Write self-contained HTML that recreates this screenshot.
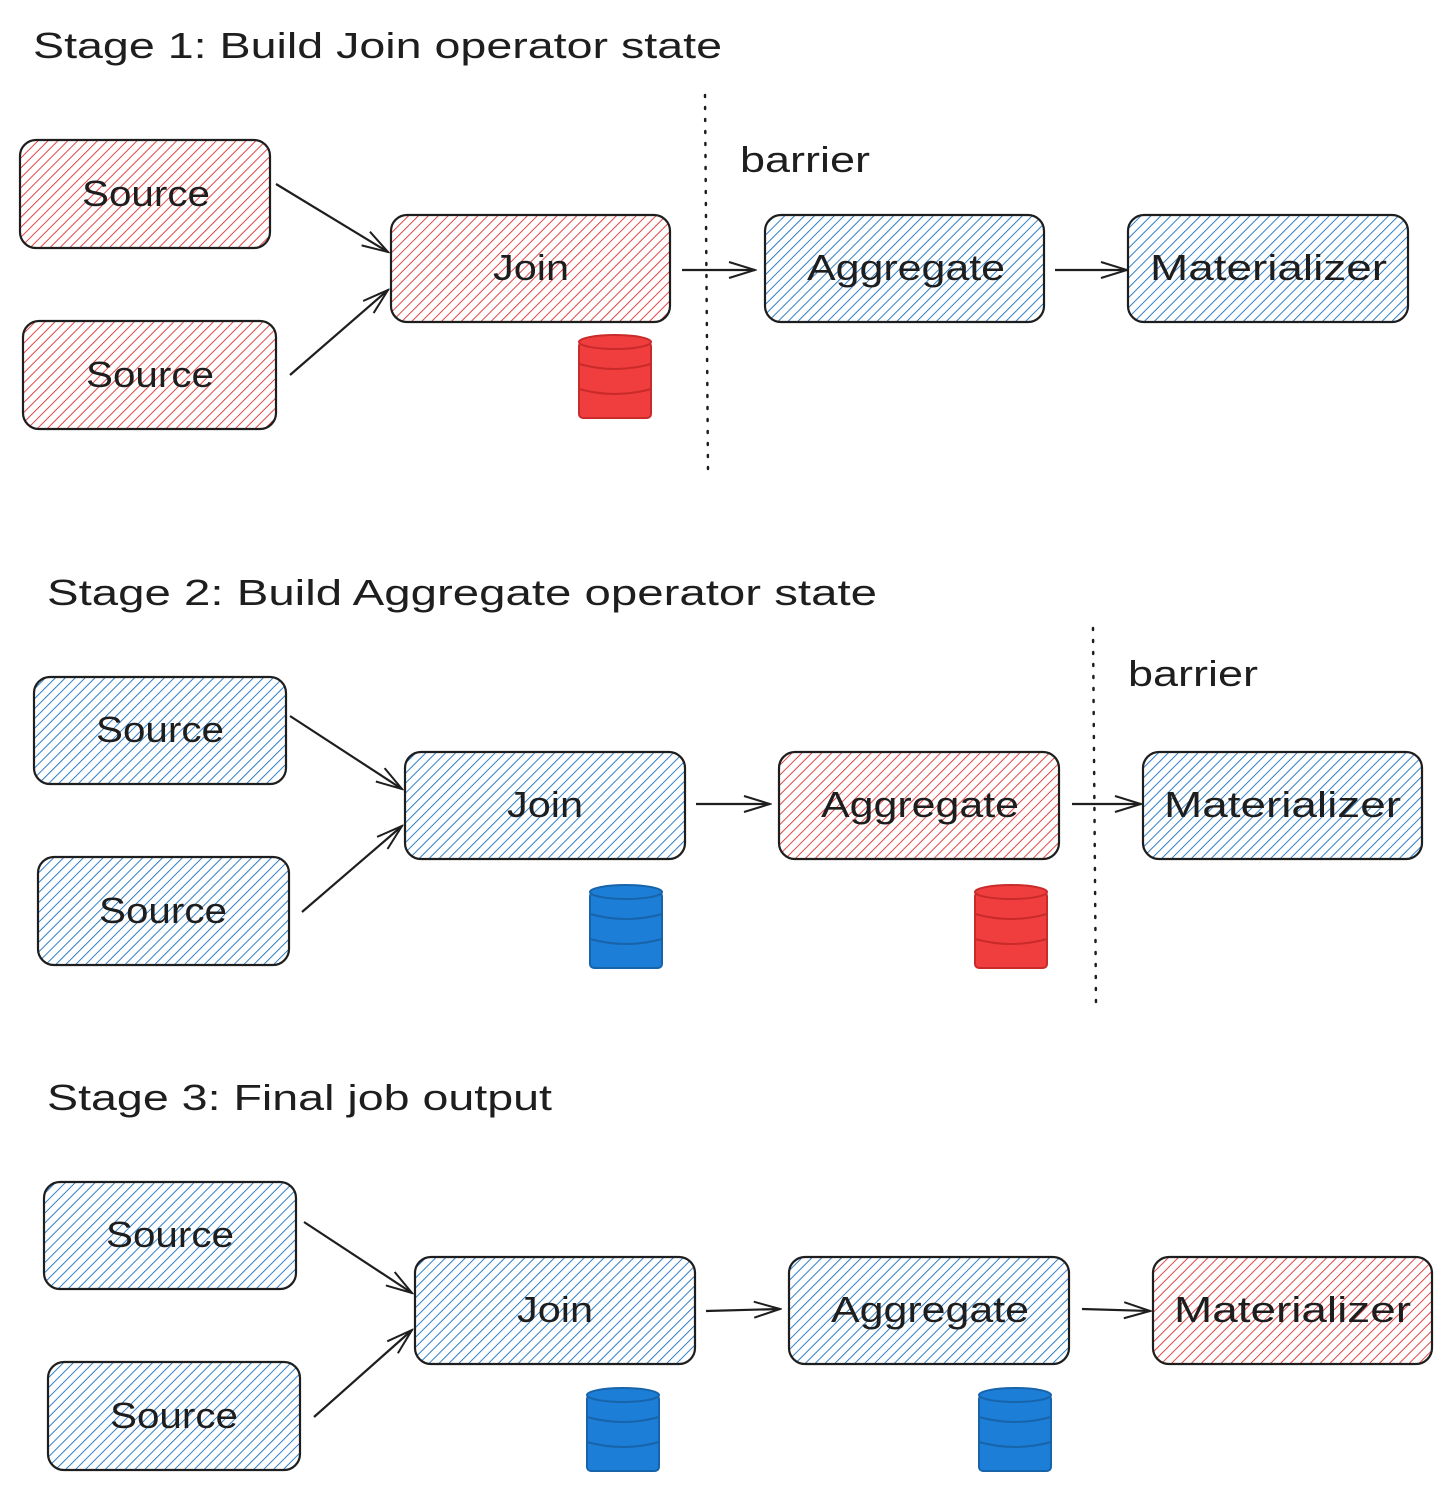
<!DOCTYPE html>
<html><head><meta charset="utf-8"><style>
html,body{margin:0;padding:0;background:#fff;}
svg{display:block;}
text{font-family:"Liberation Sans",sans-serif;fill:#1e1e1e;}
</style></head><body>
<svg width="1452" height="1496" viewBox="0 0 1452 1496" xmlns="http://www.w3.org/2000/svg">
<defs>
<pattern id="hr" width="7" height="7" patternUnits="userSpaceOnUse" patternTransform="rotate(45)">
<rect width="7" height="7" fill="#fff"/><line x1="0" y1="0" x2="0" y2="7" stroke="#e03131" stroke-width="1.8"/></pattern>
<pattern id="hb" width="7" height="7" patternUnits="userSpaceOnUse" patternTransform="rotate(45)">
<rect width="7" height="7" fill="#fff"/><line x1="0" y1="0" x2="0" y2="7" stroke="#1971c2" stroke-width="1.8"/></pattern>
<marker id="ar" markerWidth="30" markerHeight="20" refX="28" refY="10" orient="auto" markerUnits="userSpaceOnUse">
<path d="M2,2 L28,10 L2,18" fill="none" stroke="#1e1e1e" stroke-width="2"/></marker>
<g id="dbr"><rect x="0" y="8" width="72" height="76" rx="4" fill="#f03e3e" stroke="#c92a2a" stroke-width="2"/><ellipse cx="36" cy="8" rx="36" ry="7" fill="#f03e3e" stroke="#c92a2a" stroke-width="2"/><path d="M0,30 Q36,40 72,30 M0,55 Q36,65 72,55" fill="none" stroke="#c92a2a" stroke-width="2"/></g>
<g id="dbb"><rect x="0" y="8" width="72" height="76" rx="4" fill="#1c7ed6" stroke="#1864ab" stroke-width="2"/><ellipse cx="36" cy="8" rx="36" ry="7" fill="#1c7ed6" stroke="#1864ab" stroke-width="2"/><path d="M0,30 Q36,40 72,30 M0,55 Q36,65 72,55" fill="none" stroke="#1864ab" stroke-width="2"/></g>
</defs>
<g stroke="#1e1e1e" stroke-width="2.2">
<rect x="20" y="140" width="250" height="108" rx="16" fill="url(#hr)"/>
<rect x="23" y="321" width="253" height="108" rx="16" fill="url(#hr)"/>
<rect x="391" y="215" width="279" height="107" rx="16" fill="url(#hr)"/>
<rect x="765" y="215" width="279" height="107" rx="16" fill="url(#hb)"/>
<rect x="1128" y="215" width="280" height="107" rx="16" fill="url(#hb)"/>
<rect x="34" y="677" width="252" height="107" rx="16" fill="url(#hb)"/>
<rect x="38" y="857" width="251" height="108" rx="16" fill="url(#hb)"/>
<rect x="405" y="752" width="280" height="107" rx="16" fill="url(#hb)"/>
<rect x="779" y="752" width="280" height="107" rx="16" fill="url(#hr)"/>
<rect x="1143" y="752" width="279" height="107" rx="16" fill="url(#hb)"/>
<rect x="44" y="1182" width="252" height="107" rx="16" fill="url(#hb)"/>
<rect x="48" y="1362" width="252" height="108" rx="16" fill="url(#hb)"/>
<rect x="415" y="1257" width="280" height="107" rx="16" fill="url(#hb)"/>
<rect x="789" y="1257" width="280" height="107" rx="16" fill="url(#hb)"/>
<rect x="1153" y="1257" width="279" height="107" rx="16" fill="url(#hr)"/>
</g>
<g stroke="#1e1e1e" stroke-width="2.2" fill="none" marker-end="url(#ar)">
<line x1="276" y1="184" x2="388" y2="252"/><line x1="290" y1="375" x2="388" y2="290"/>
<line x1="682" y1="270" x2="755" y2="270"/><line x1="1055" y1="270" x2="1127" y2="270"/>
<line x1="290" y1="716" x2="402" y2="789"/><line x1="302" y1="912" x2="402" y2="826"/>
<line x1="696" y1="804" x2="770" y2="804"/><line x1="1072" y1="804" x2="1141" y2="804"/>
<line x1="304" y1="1222" x2="412" y2="1293"/><line x1="314" y1="1417" x2="412" y2="1330"/>
<line x1="706" y1="1311" x2="780" y2="1309"/><line x1="1082" y1="1309" x2="1150" y2="1311"/>
</g>
<g stroke="#1e1e1e" stroke-width="2.5" stroke-dasharray="2,10" stroke-linecap="round">
<line x1="705" y1="95" x2="708" y2="470"/><line x1="1093" y1="628" x2="1096" y2="1005"/>
</g>
<use href="#dbr" x="579" y="334"/>
<use href="#dbb" x="590" y="884"/><use href="#dbr" x="975" y="884"/>
<use href="#dbb" x="587" y="1387"/><use href="#dbb" x="979" y="1387"/>
<g font-size="36" lengthAdjust="spacingAndGlyphs">
<text x="33" y="58" textLength="689" lengthAdjust="spacingAndGlyphs">Stage 1: Build Join operator state</text>
<text x="47" y="605" textLength="830" lengthAdjust="spacingAndGlyphs">Stage 2: Build Aggregate operator state</text>
<text x="47" y="1110" textLength="505" lengthAdjust="spacingAndGlyphs">Stage 3: Final job output</text>
<text x="740" y="172" textLength="130" lengthAdjust="spacingAndGlyphs">barrier</text>
<text x="1128" y="686" textLength="130" lengthAdjust="spacingAndGlyphs">barrier</text>
</g>
<g font-size="36">
<text x="82" y="206" textLength="128" lengthAdjust="spacingAndGlyphs">Source</text>
<text x="86" y="387" textLength="128" lengthAdjust="spacingAndGlyphs">Source</text>
<text x="493" y="280" textLength="76" lengthAdjust="spacingAndGlyphs">Join</text>
<text x="807" y="280" textLength="198" lengthAdjust="spacingAndGlyphs">Aggregate</text>
<text x="1150" y="280" textLength="237" lengthAdjust="spacingAndGlyphs">Materializer</text>
<text x="96" y="742" textLength="128" lengthAdjust="spacingAndGlyphs">Source</text>
<text x="99" y="923" textLength="128" lengthAdjust="spacingAndGlyphs">Source</text>
<text x="507" y="817" textLength="76" lengthAdjust="spacingAndGlyphs">Join</text>
<text x="821" y="817" textLength="198" lengthAdjust="spacingAndGlyphs">Aggregate</text>
<text x="1164" y="817" textLength="237" lengthAdjust="spacingAndGlyphs">Materializer</text>
<text x="106" y="1247" textLength="128" lengthAdjust="spacingAndGlyphs">Source</text>
<text x="110" y="1428" textLength="128" lengthAdjust="spacingAndGlyphs">Source</text>
<text x="517" y="1322" textLength="76" lengthAdjust="spacingAndGlyphs">Join</text>
<text x="831" y="1322" textLength="198" lengthAdjust="spacingAndGlyphs">Aggregate</text>
<text x="1174" y="1322" textLength="237" lengthAdjust="spacingAndGlyphs">Materializer</text>
</g>
</svg>
</body></html>
